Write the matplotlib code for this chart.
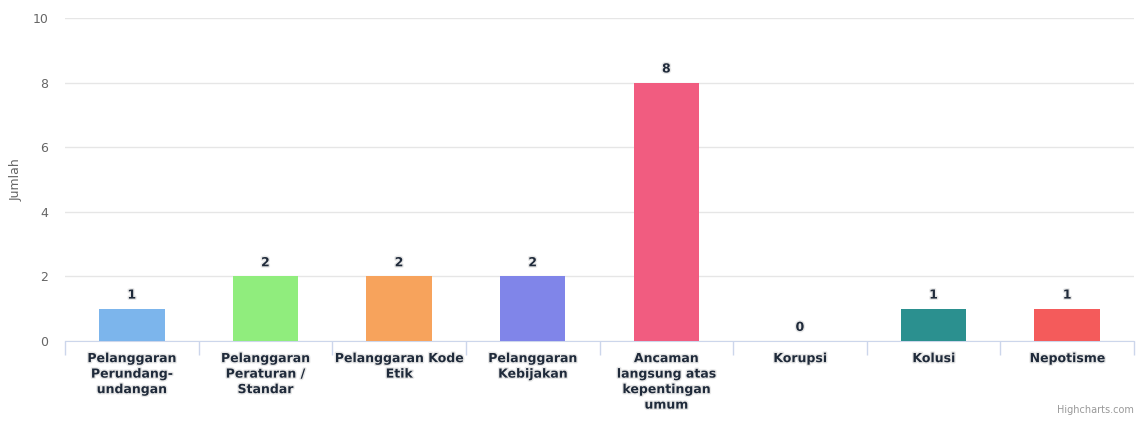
import numpy as np
from matplotlib import pyplot as plt
from matplotlib import patheffects as pe

# data
categories = ["Pelanggaran\nPerundang-\nundangan", "Pelanggaran\nPeraturan /\nStandar",
              "Pelanggaran Kode\nEtik", "Pelanggaran\nKebijakan",
              "Ancaman\nlangsung atas\nkepentingan\numum", "Korupsi", "Kolusi", "Nepotisme"]
values = [1, 2, 2, 2, 8, 0, 1, 1]
colors = ["#7cb5ec", "#90ed7d", "#f7a35c", "#8085e9", "#f15c80", "#e4d354", "#2b908f", "#f45b5b"]
yticks = [0, 2, 4, 6, 8, 10]

fig = plt.figure(figsize=(11.44, 4.21), dpi=100)
ax = fig.add_axes([65/1144, 80/421, (1134-65)/1144, (341-18)/421])

x = np.arange(len(categories))
ax.bar(x, values, width=0.49, color=colors, zorder=3)

halo = [pe.withStroke(linewidth=2, foreground="#e8e8e8")]
for xi, v in zip(x, values):
    ax.text(xi, v + 0.22, str(v), ha="center", va="bottom", fontsize=9,
            fontweight="bold", color="#1f2a3a", path_effects=halo, zorder=4)

ax.set_xlim(-0.5, len(categories) - 0.5)
ax.set_ylim(0, 10)
ax.set_yticks(yticks)
ax.yaxis.grid(True, color="#e6e6e6", linewidth=1)
ax.set_axisbelow(True)

# ticks at category boundaries, labels in the middle
ax.set_xticks(np.arange(-0.5, len(categories), 1.0))
ax.set_xticklabels([])
ax.tick_params(axis="x", which="major", length=10, color="#ccd6eb", width=1, direction="out")
ax.set_xticks(x, minor=True)
ax.set_xticklabels(categories, minor=True, fontsize=9, fontweight="bold", color="#1f2a3a",
                   path_effects=halo, linespacing=1.25)
ax.tick_params(axis="x", which="minor", length=0, pad=8)

ax.tick_params(axis="y", length=0, labelsize=9, labelcolor="#666666", pad=12)

for s in ["top", "right", "left"]:
    ax.spines[s].set_visible(False)
ax.spines["bottom"].set_color("#ccd6eb")

ax.set_ylabel("Jumlah", color="#666666", fontsize=9)
ax.yaxis.set_label_coords(-0.040, 0.5)

fig.text(1134/1144, 1 - 410/421, "Highcharts.com", ha="right", va="center",
         fontsize=7, color="#999999")

plt.savefig("out.png", dpi=100)
